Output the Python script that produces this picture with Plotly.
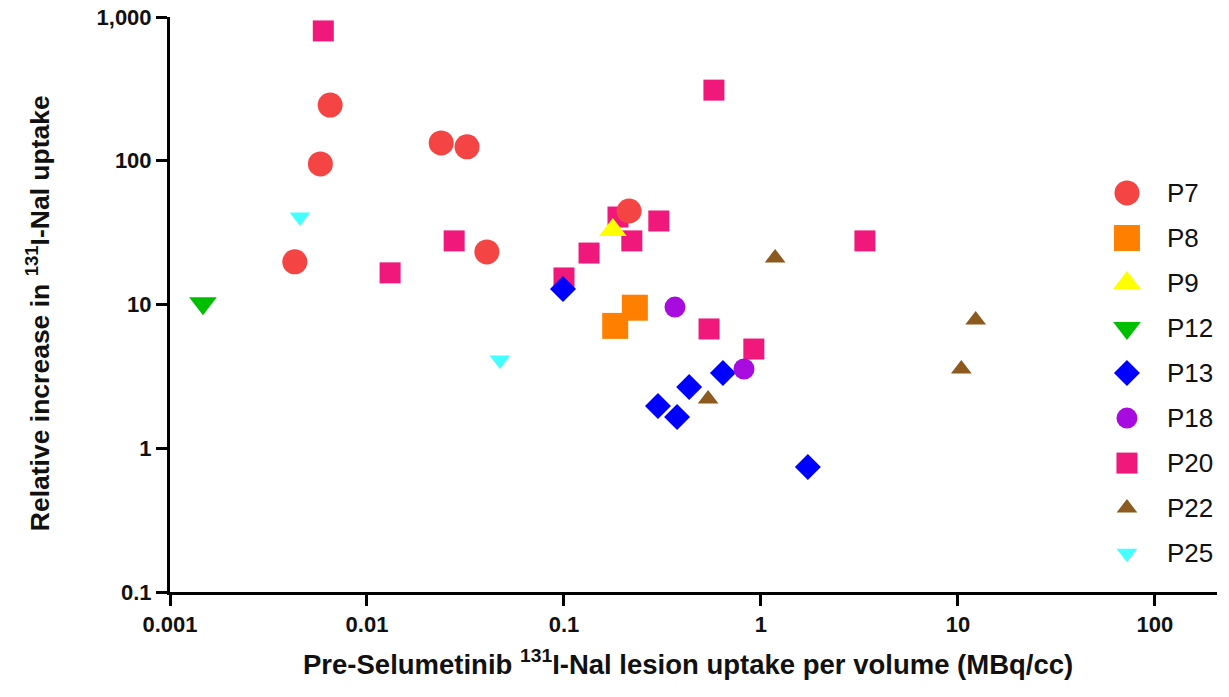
import plotly.graph_objects as go

# ---- data ----
series_names = ["P7", "P8", "P9", "P12", "P13", "P18", "P20", "P22", "P25"]

p7_x = [0.0043, 0.0058, 0.0065, 0.0238, 0.0322, 0.0406, 0.214]
p7_y = [19.8, 95, 244, 133, 125, 23.2, 44.7]

p8_x = [0.182, 0.229]
p8_y = [7.1, 9.5]

p9_x = [0.177]
p9_y = [33.0]

p12_x = [0.00147]
p12_y = [10.2]

p13_x = [0.0989, 0.300, 0.375, 0.432, 0.641, 1.73]
p13_y = [12.8, 1.97, 1.65, 2.67, 3.34, 0.741]

p18_x = [0.366, 0.82]
p18_y = [9.6, 3.56]

p20_x = [0.0060, 0.0131, 0.0277, 0.100, 0.134, 0.188, 0.221, 0.303, 0.577, 0.545, 0.92, 3.37]
p20_y = [800, 16.6, 27.7, 15.3, 22.8, 40.6, 27.7, 38.1, 310, 6.76, 4.9, 27.7]

p22_x = [0.539, 1.18, 10.4, 12.3]
p22_y = [2.2, 21.1, 3.56, 7.8]

p25_x = [0.00457, 0.0473]
p25_y = [40.6, 4.11]

x_tickvals = [0.001, 0.01, 0.1, 1, 10, 100]
x_ticktext = ["0.001", "0.01", "0.1", "1", "10", "100"]
y_tickvals = [0.1, 1, 10, 100, 1000]
y_ticktext = ["0.1", "1", "10", "100", "1,000"]

x_title = "Pre-Selumetinib <sup>131</sup>I-Nal lesion uptake per volume (MBq/cc)"
y_title = "Relative increase in <sup>131</sup>I-Nal uptake"

# ---- styles ----
colors = ["#F44444", "#FF8000", "#FFFF00", "#00BF00", "#0000FF",
          "#A70BDD", "#F0187A", "#8C5A1E", "#44FFFF"]
symbols = ["circle", "square", "triangle-up", "triangle-down", "diamond",
           "circle", "square", "triangle-up", "triangle-down"]
sizes = [25, 26, 24, 24, 20, 21, 21, 18, 18]

xs = [p7_x, p8_x, p9_x, p12_x, p13_x, p18_x, p20_x, p22_x, p25_x]
ys = [p7_y, p8_y, p9_y, p12_y, p13_y, p18_y, p20_y, p22_y, p25_y]

FONT = "Liberation Sans, Arial, sans-serif"

# draw order: P20 at the bottom, the rest above it
draw_order = [6, 0, 1, 2, 3, 4, 5, 7, 8]

fig = go.Figure()
for i in draw_order:
    fig.add_trace(go.Scatter(
        x=xs[i], y=ys[i], mode="markers", name=series_names[i], showlegend=False,
        marker=dict(color=colors[i], symbol=symbols[i], size=sizes[i], line=dict(width=0)),
        cliponaxis=False,
    ))

# custom legend drawn on an overlay axis (fraction of plot area)
leg_x = 0.914
leg_y0 = 0.694
leg_step = 0.0783
for i, (name, c, s, sz) in enumerate(zip(series_names, colors, symbols, sizes)):
    yy = leg_y0 - i * leg_step
    fig.add_trace(go.Scatter(
        x=[leg_x], y=[yy], xaxis="x2", yaxis="y2", mode="markers",
        showlegend=False, hoverinfo="skip",
        marker=dict(color=c, symbol=s, size=sz, line=dict(width=0)),
    ))
    fig.add_annotation(
        x=0.950, y=yy, xref="x2", yref="y2", text=name, showarrow=False,
        xanchor="left", yanchor="middle",
        font=dict(family=FONT, size=26, color="#111111"),
    )

# axis titles as annotations for precise placement
fig.add_annotation(
    x=0.495, y=-0.122, xref="paper", yref="paper", text=x_title, showarrow=False,
    xanchor="center", yanchor="middle",
    font=dict(family=FONT, size=27.5, color="#111111", weight="bold"),
)
fig.add_annotation(
    x=-0.126, y=0.485, xref="paper", yref="paper", text=y_title, showarrow=False,
    xanchor="center", yanchor="middle", textangle=-90,
    font=dict(family=FONT, size=26.5, color="#111111", weight="bold"),
)

axis_common = dict(
    type="log", showline=True, linecolor="black", linewidth=3,
    ticks="outside", ticklen=11, tickwidth=3, tickcolor="black",
    showgrid=False, zeroline=False, mirror=False, automargin=False,
    tickfont=dict(family=FONT, size=22, color="#111111", weight="bold"),
)

fig.update_layout(
    width=1229, height=697,
    margin=dict(l=170, r=12, t=17, b=105),
    paper_bgcolor="white", plot_bgcolor="white",
    showlegend=False,
    xaxis=dict(**axis_common, range=[-3, 2.315],
               tickvals=x_tickvals, ticktext=x_ticktext),
    yaxis=dict(**axis_common, range=[-1, 3],
               tickvals=y_tickvals, ticktext=y_ticktext),
    xaxis2=dict(overlaying="x", range=[0, 1], visible=False, fixedrange=True),
    yaxis2=dict(overlaying="y", range=[0, 1], visible=False, fixedrange=True),
)

fig.write_html("out.html")
